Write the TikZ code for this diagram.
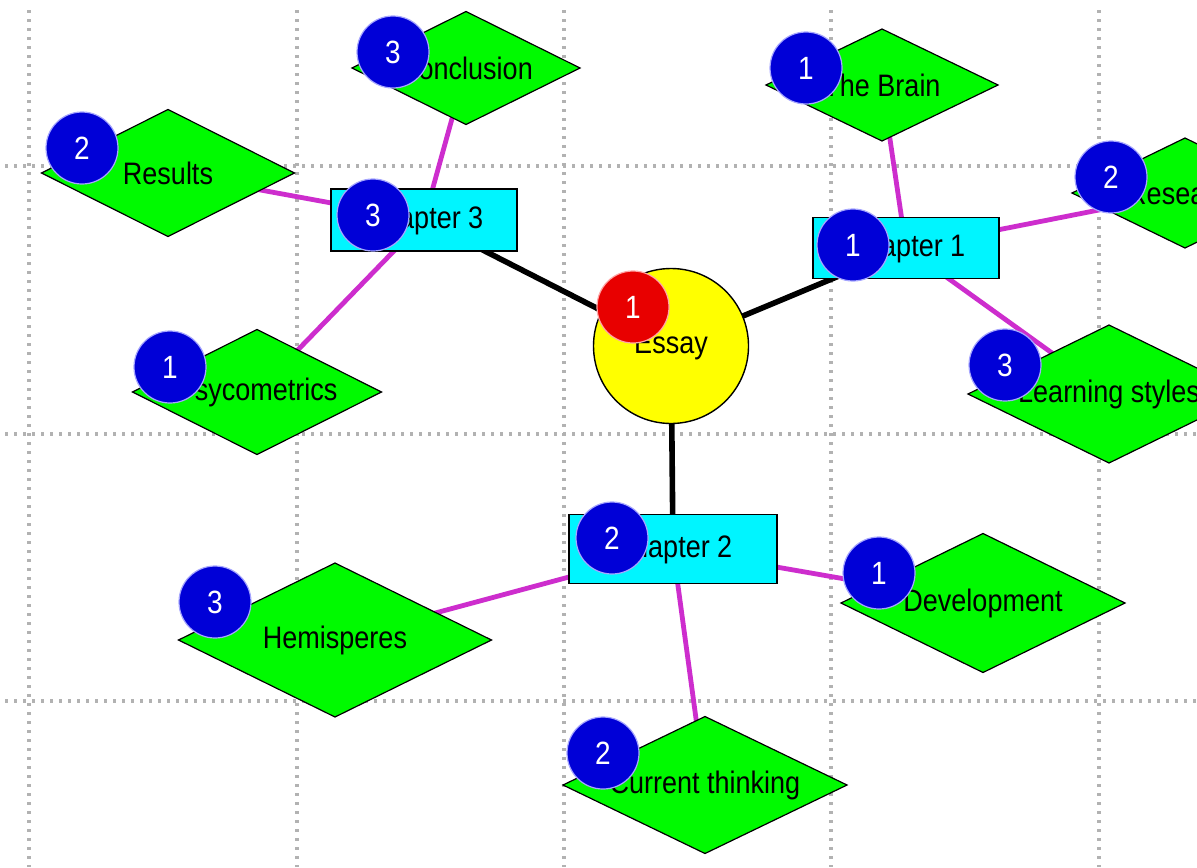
\documentclass[tikz,border=0pt]{standalone}
\usepackage{fontspec}
\setmainfont{Liberation Sans}
\usetikzlibrary{shapes.geometric}

\pgfdeclarelayer{gridlayer}
\pgfdeclarelayer{linklayer}
\pgfsetlayers{gridlayer,linklayer,main}

\definecolor{leafgreen}{RGB}{0,250,0}
\definecolor{boxcyan}{RGB}{0,245,255}
\definecolor{hubyellow}{RGB}{255,255,0}
\definecolor{hubred}{RGB}{232,0,0}
\definecolor{badgeblue}{RGB}{0,0,215}
\definecolor{linkmag}{RGB}{205,45,205}
\definecolor{gridgray}{RGB}{178,178,178}

% slightly tall lettering
\newcommand{\tallt}[1]{\scalebox{1}[1.15]{#1}}

\tikzset{
  labelfont/.style={font=\fontsize{13.5}{15}\selectfont},
  leaf/.style={diamond, aspect=2, draw=black, line width=0.6pt, fill=leafgreen,
    inner sep=0pt, outer sep=0pt, labelfont},
  chap/.style={rectangle, draw=black, line width=0.7pt, fill=boxcyan,
    inner sep=0pt, outer sep=0pt, labelfont},
  hub/.style={circle, draw=black, line width=0.7pt, fill=hubyellow,
    minimum size=77.5pt, inner sep=0pt, outer sep=0pt, labelfont},
  badge/.style={circle, fill=badgeblue, draw=blue!35!white, line width=0.6pt,
    minimum size=36pt, inner sep=0pt, text=white, font=\fontsize{14}{15}\selectfont},
  redbadge/.style={badge, fill=hubred, draw=red!35!white},
  mainlink/.style={line width=2.8pt, black},
  sublink/.style={line width=2.4pt, linkmag},
  gridline/.style={gridgray, line width=1.6pt, dash pattern=on 1.6pt off 2.9pt},
}

\begin{document}
\begin{tikzpicture}[x=0.5pt, y=-0.5pt]
  \useasboundingbox (0,0) rectangle (1197,867);

  % central topic
  \node[hub] (ess) at (671,346) {\tallt{Essay}};

  % chapters
  \node[chap, minimum width=93pt, minimum height=31pt]   (ch3) at (424,220) {\tallt{Chapter 3}};
  \node[chap, minimum width=93pt, minimum height=30.5pt] (ch1) at (906,248) {\tallt{Chapter 1}};
  \node[chap, minimum width=104pt, minimum height=34.5pt] (ch2) at (673,549) {\tallt{Chapter 2}};

  % sub-topics
  \node[leaf, minimum width=114pt, minimum height=56.5pt]  (concl)   at (466,68)  {\tallt{Conclusion}};
  \node[leaf, minimum width=126.5pt, minimum height=63.5pt] (results) at (168,173) {\tallt{Results}};
  \node[leaf, minimum width=124.5pt, minimum height=62.5pt] (psyco)   at (257,392) {\tallt{Psycometrics}};
  \node[leaf, minimum width=116pt, minimum height=56pt]    (brain)   at (882,85)  {\tallt{The Brain}};
  \node[leaf, minimum width=113pt, minimum height=55pt]    (research) at (1185,193) {\tallt{Research}};
  \node[leaf, minimum width=141pt, minimum height=69pt]    (learn)   at (1109,394) {\tallt{Learning styles}};
  \node[leaf, minimum width=156.5pt, minimum height=77pt]  (hemi)    at (335,640) {\tallt{Hemisperes}};
  \node[leaf, minimum width=142pt, minimum height=69.5pt]  (devel)   at (983,603) {\tallt{Development}};
  \node[leaf, minimum width=142pt, minimum height=68.5pt]  (current) at (705,785) {\tallt{Current thinking}};

  % order badges
  \node[redbadge] (b-ess) at (633,307) {\tallt{1}};
  \node[badge] (b-ch3) at (373,215) {\tallt{3}};
  \node[badge] (b-ch1) at (853,245) {\tallt{1}};
  \node[badge] (b-ch2) at (612,538) {\tallt{2}};
  \node[badge] (b-concl) at (393,52) {\tallt{3}};
  \node[badge] (b-results) at (82,148) {\tallt{2}};
  \node[badge] (b-psyco) at (170,367) {\tallt{1}};
  \node[badge] (b-brain) at (806,68) {\tallt{1}};
  \node[badge] (b-research) at (1111,177) {\tallt{2}};
  \node[badge] (b-learn) at (1005,365) {\tallt{3}};
  \node[badge] (b-hemi) at (215,602) {\tallt{3}};
  \node[badge] (b-devel) at (879,573) {\tallt{1}};
  \node[badge] (b-current) at (603,753) {\tallt{2}};

  % connectors, behind the shapes
  \begin{pgfonlayer}{linklayer}
    \draw[mainlink] (ess.center) -- (ch3.center);
    \draw[mainlink] (ess.center) -- (ch1.center);
    \draw[mainlink] (ess.center) -- (ch2.center);
    \draw[sublink] (ch3.center) -- (concl.center);
    \draw[sublink] (ch3.center) -- (results.center);
    \draw[sublink] (ch3.center) -- (psyco.center);
    \draw[sublink] (ch1.center) -- (brain.center);
    \draw[sublink] (ch1.center) -- (research.center);
    \draw[sublink] (ch1.center) -- (learn.center);
    \draw[sublink] (ch2.center) -- (hemi.center);
    \draw[sublink] (ch2.center) -- (devel.center);
    \draw[sublink] (ch2.center) -- (current.center);
  \end{pgfonlayer}

  % white page with dotted grid
  \begin{pgfonlayer}{gridlayer}
    \fill[white] (0,0) rectangle (1197,867);
    \foreach \gx in {29,297,564,831,1099}
      \draw[gridline] (\gx,10) -- (\gx,867);
    \foreach \gy in {166,434,701}
      \draw[gridline] (5,\gy) -- (1197,\gy);
  \end{pgfonlayer}
\end{tikzpicture}
\end{document}
